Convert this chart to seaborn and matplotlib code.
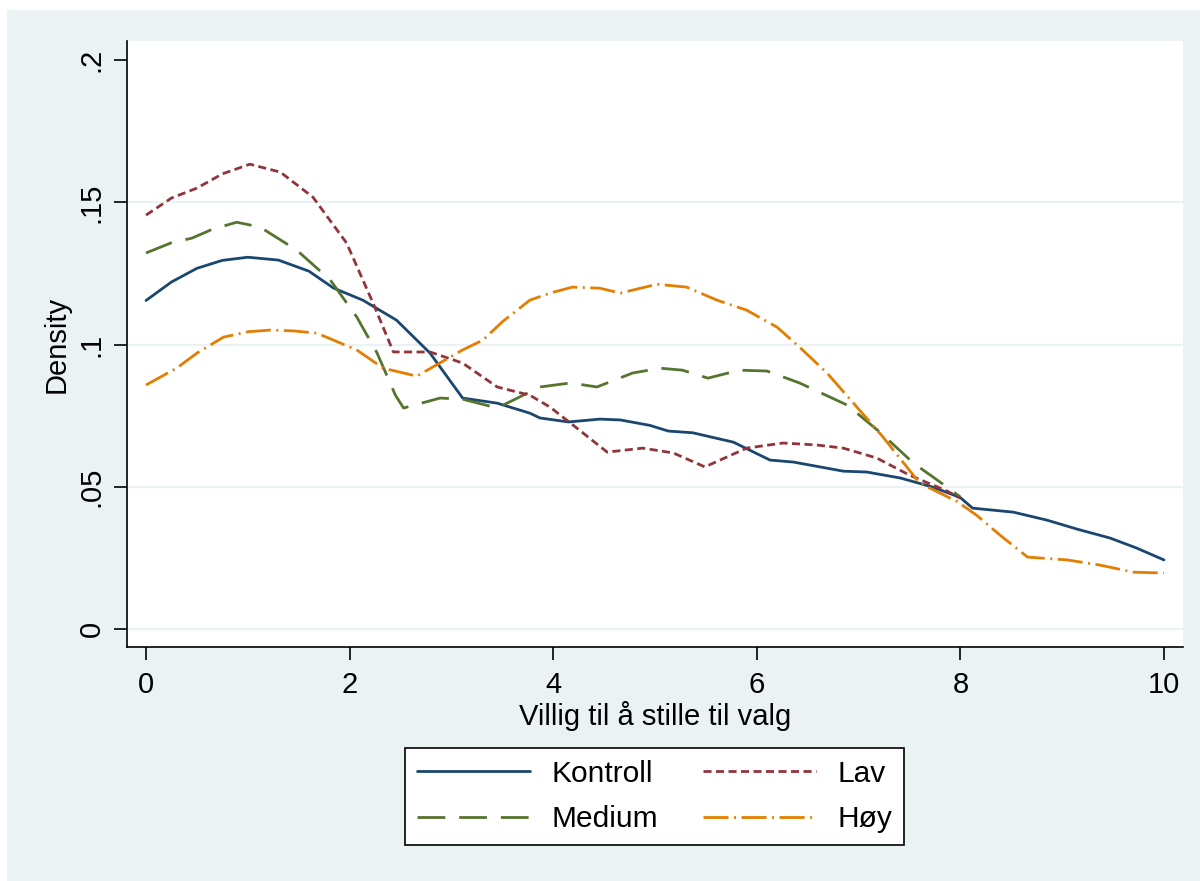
import matplotlib
matplotlib.use("Agg")
import matplotlib.pyplot as plt
from matplotlib.patches import Rectangle
import seaborn as sns
import pandas as pd

# ---- data ----
kontroll_x = [0, 0.25, 0.5, 0.75, 1.0, 1.3, 1.6, 1.84, 2.13, 2.46, 2.79, 3.11, 3.45, 3.77, 3.87,
              4.15, 4.46, 4.66, 4.95, 5.13, 5.37, 5.77, 6.13, 6.36, 6.85, 7.08, 7.41, 7.73, 8.0,
              8.12, 8.52, 8.85, 9.15, 9.47, 9.73, 10]
kontroll_y = [0.1155, 0.1220, 0.1268, 0.1296, 0.1307, 0.1297, 0.1258, 0.1199, 0.1156, 0.1086,
              0.0970, 0.0812, 0.0794, 0.0759, 0.0742, 0.0728, 0.0738, 0.0735, 0.0716, 0.0696,
              0.0690, 0.0657, 0.0594, 0.0587, 0.0555, 0.0552, 0.0531, 0.0499, 0.0462, 0.0425,
              0.0411, 0.0383, 0.0351, 0.0320, 0.0285, 0.0243]

lav_x = [0, 0.25, 0.5, 0.75, 1.02, 1.32, 1.64, 1.97, 2.23, 2.43, 2.79, 3.11, 3.45, 3.77, 3.97,
         4.17, 4.53, 4.88, 5.18, 5.49, 5.9, 6.26, 6.59, 6.85, 7.18, 7.5, 7.87, 8.0]
lav_y = [0.1455, 0.1515, 0.1550, 0.1600, 0.1634, 0.1606, 0.1518, 0.1357, 0.1146, 0.0974,
         0.0974, 0.0935, 0.0851, 0.0822, 0.0780, 0.0724, 0.0622, 0.0636, 0.0619, 0.0570,
         0.0636, 0.0654, 0.0647, 0.0636, 0.0601, 0.0541, 0.0485, 0.0460]

medium_x = [0, 0.25, 0.45, 0.65, 0.89, 1.12, 1.48, 1.81, 2.07, 2.27, 2.45, 2.53, 2.89, 3.11,
            3.45, 3.87, 4.17, 4.43, 4.78, 5.05, 5.27, 5.52, 5.83, 6.1, 6.42, 6.89, 7.21, 7.54,
            7.87, 8.0]
medium_y = [0.1322, 0.1358, 0.1374, 0.1405, 0.1430, 0.1413, 0.1332, 0.1227, 0.1097, 0.0970,
            0.0822, 0.0777, 0.0812, 0.0808, 0.0777, 0.0851, 0.0865, 0.0851, 0.0900, 0.0917,
            0.0910, 0.0882, 0.0910, 0.0907, 0.0865, 0.0787, 0.0692, 0.0583, 0.0499, 0.0464]

hoy_x = [0, 0.3, 0.5, 0.76, 1.0, 1.22, 1.45, 1.68, 2.07, 2.33, 2.66, 3.11, 3.31, 3.5, 3.77,
         3.97, 4.19, 4.46, 4.66, 5.02, 5.31, 5.61, 5.9, 6.2, 6.42, 6.69, 6.95, 7.24, 7.6, 7.97,
         8.16, 8.39, 8.66, 9.05, 9.37, 9.7, 10]
hoy_y = [0.0858, 0.0917, 0.0970, 0.1026, 0.1045, 0.1051, 0.1048, 0.1040, 0.0981, 0.0917,
         0.0889, 0.0981, 0.1016, 0.1080, 0.1156, 0.1181, 0.1202, 0.1198, 0.1181, 0.1212,
         0.1202, 0.1156, 0.1121, 0.1061, 0.0991, 0.0900, 0.0794, 0.0675, 0.0513, 0.0448,
         0.0400, 0.0330, 0.0253, 0.0243, 0.0225, 0.0200, 0.0197]

x_ticks = [0, 2, 4, 6, 8, 10]
x_ticklabels = ["0", "2", "4", "6", "8", "10"]
y_ticks = [0, 0.05, 0.1, 0.15, 0.2]
y_ticklabels = ["0", ".05", ".1", ".15", ".2"]

series = [
    ("Kontroll", kontroll_x, kontroll_y, "#1a476f", "-"),
    ("Medium", medium_x, medium_y, "#55752f", (0, (20, 10))),
    ("Lav", lav_x, lav_y, "#90353b", (0, (5.8, 3.2))),
    ("Høy", hoy_x, hoy_y, "#e37e00", (0, (18, 4, 1.4, 4))),
]

# ---- style ----
sns.set_theme(style="white")
plt.rcParams["font.family"] = ["Liberation Sans", "DejaVu Sans"]
plt.rcParams["lines.scale_dashes"] = False
plt.rcParams["text.color"] = "black"
plt.rcParams["axes.labelcolor"] = "black"

BG = "#EAF2F3"
W, H = 1200, 881
FS = 21
fig = plt.figure(figsize=(W / 100, H / 100), dpi=100)
fig.patch.set_facecolor("white")
fig.patches.append(Rectangle((7 / W, 0), 1 - 7 / W, (H - 10) / H, transform=fig.transFigure,
                             facecolor=BG, edgecolor="none", zorder=-10))

ax = fig.add_axes([127 / W, (H - 647) / H, (1183 - 127) / W, (647 - 41) / H])
ax.set_facecolor("white")

for name, xs, ys, color, ls in series:
    df = pd.DataFrame({"x": xs, "y": ys})
    sns.lineplot(data=df, x="x", y="y", ax=ax, color=color, linestyle=ls,
                 linewidth=2.0, label=name, legend=False)

ax.set_xlim(-0.187, 10.187)
ax.set_ylim(-0.0063, 0.2067)
ax.set_xticks(x_ticks)
ax.set_xticklabels(x_ticklabels)
ax.set_yticks(y_ticks)
ax.set_yticklabels(y_ticklabels, rotation=90, va="center")

for s in ["top", "right"]:
    ax.spines[s].set_visible(False)
for s in ["left", "bottom"]:
    ax.spines[s].set_color("black")
    ax.spines[s].set_linewidth(1.2)

ax.tick_params(axis="x", which="major", direction="out", length=9.4, width=1.2,
               color="black", labelsize=FS, labelcolor="black", pad=8, bottom=True)
ax.tick_params(axis="y", which="major", direction="out", length=9.4, width=1.2,
               color="black", labelsize=FS, labelcolor="black", pad=6, left=True)

ax.yaxis.grid(True, color=BG, linewidth=1.6)
ax.xaxis.grid(False)
gl = ax.yaxis.get_gridlines()
gl[-1].set_visible(False)
ax.set_axisbelow(True)

ax.set_xlabel("Villig til å stille til valg", fontsize=FS, color="black", labelpad=1)
ax.set_ylabel("Density", fontsize=FS, color="black", labelpad=5)

handles, labels = ax.get_legend_handles_labels()
leg = fig.legend(handles, labels, loc="center",
                 bbox_to_anchor=(654.5 / W, (H - 796.5) / H), ncol=2,
                 frameon=True, fancybox=False, edgecolor="black", facecolor="white",
                 framealpha=1, fontsize=21.5, handlelength=3.8, handletextpad=0.7,
                 columnspacing=1.5, borderpad=0.4, labelspacing=0.6)
leg.get_frame().set_linewidth(1.2)
for t in leg.get_texts():
    t.set_color("black")

fig.savefig("out.png", dpi=100, facecolor=fig.get_facecolor())
